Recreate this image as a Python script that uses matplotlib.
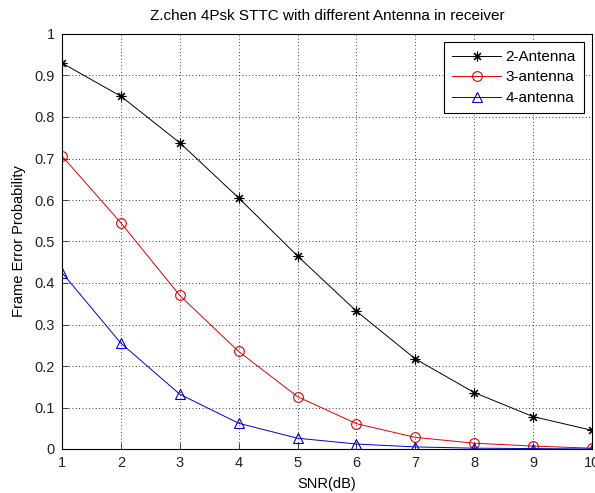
import matplotlib
matplotlib.use("Agg")
import matplotlib.pyplot as plt

snr = [1, 2, 3, 4, 5, 6, 7, 8, 9, 10]
ant2 = [0.93, 0.85, 0.738, 0.605, 0.465, 0.332, 0.217, 0.136, 0.078, 0.045]
ant3 = [0.706, 0.545, 0.37, 0.235, 0.126, 0.061, 0.028, 0.014, 0.007, 0.002]
ant4 = [0.425, 0.255, 0.132, 0.062, 0.026, 0.012, 0.005, 0.002, 0.001, 0.0]
labels = ["2-Antenna", "3-antenna", "4-antenna"]

plt.rcParams['font.family'] = ['Liberation Sans', 'DejaVu Sans']

fig = plt.figure(figsize=(5.95, 4.93), dpi=100)
ax = fig.add_axes([62/595, 44/493, 530/595, 415/493])

ax.plot(snr, ant2, color='black', marker=(8, 2, 0), markersize=7, markeredgewidth=0.8,
        linewidth=0.7, label=labels[0])
ax.plot(snr, ant3, color='#e00000', marker='o', markersize=7, markerfacecolor='none',
        markeredgewidth=0.8, linewidth=0.7, label=labels[1])
ax.plot(snr, ant4, color='#0000d0', marker='^', markersize=7, markerfacecolor='none',
        markeredgewidth=0.8, linewidth=0.7, label=labels[2])

ax.set_xlim(1, 10)
ax.set_ylim(0, 1)
ax.set_xticks(range(1, 11))
ax.set_yticks([i/10 for i in range(11)])
ax.set_yticklabels(["0", "0.1", "0.2", "0.3", "0.4", "0.5", "0.6", "0.7", "0.8", "0.9", "1"])
ax.grid(True, color='black', linestyle=(0, (1, 3)), linewidth=0.6)
ax.tick_params(direction='in', length=4, width=0.6, colors='#222222', labelsize=10.5, pad=5)
for s in ax.spines.values():
    s.set_linewidth(0.8)

ax.set_title("Z.chen 4Psk STTC with different Antenna in receiver", fontsize=11, pad=10)
ax.set_xlabel("SNR(dB)", fontsize=10.5, labelpad=5)
ax.set_ylabel("Frame Error Probability", fontsize=10.5, labelpad=6)

leg = ax.legend(loc='upper right', fancybox=False, framealpha=1, edgecolor='black',
                fontsize=11, borderaxespad=0.55, handlelength=3.2, handletextpad=0.3,
                labelspacing=0.42, borderpad=0.5)
leg.get_frame().set_linewidth(0.8)

fig.savefig("out.png", dpi=100)
